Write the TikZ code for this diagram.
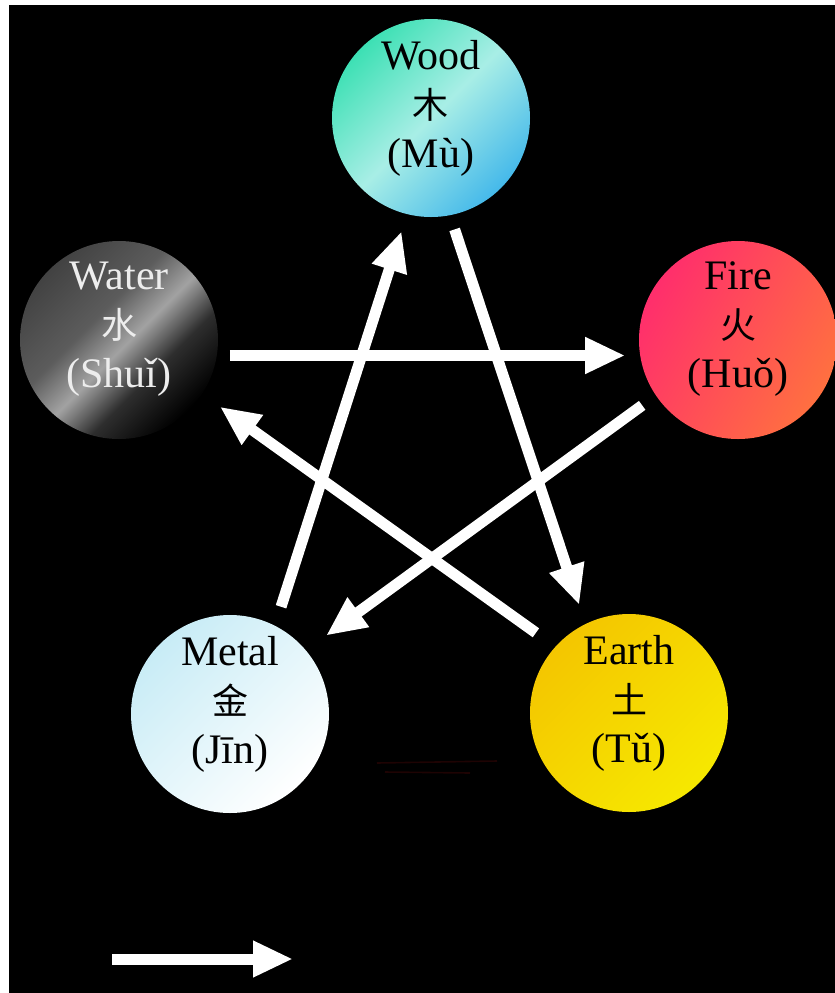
\documentclass[tikz,border=0pt]{standalone}
\usepackage{fontspec}
\setmainfont{Liberation Serif}
\newfontfamily\cjk{Noto Sans CJK SC}
\usetikzlibrary{arrows.meta}

\definecolor{woodA}{HTML}{3DE0B4}
\definecolor{woodM}{HTML}{A8EEE6}
\definecolor{woodB}{HTML}{45B9EA}
\definecolor{fireA}{HTML}{FF2E6C}
\definecolor{fireB}{HTML}{FF7040}
\definecolor{metalA}{HTML}{C8ECF6}
\definecolor{earthA}{HTML}{F4C600}
\definecolor{earthB}{HTML}{F6E800}
\definecolor{waterA}{HTML}{424242}
\definecolor{waterM}{HTML}{5C5C5C}
\definecolor{waterB}{HTML}{A2A2A2}
\definecolor{waterC}{HTML}{2E2E2E}
\definecolor{watertext}{HTML}{EDEDED}
\definecolor{faintred}{HTML}{1E0303}

\pgfdeclarehorizontalshading{watershade}{100bp}{color(0bp)=(waterA); color(25bp)=(waterA); color(42bp)=(waterM); color(52bp)=(waterB); color(62bp)=(waterC); color(75bp)=(black); color(100bp)=(black)}

\begin{document}
\begin{tikzpicture}[x=0.5pt, y=-0.5pt,
    elem/.style={circle, minimum size=99pt, inner sep=0pt, outer sep=0pt},
    lbl/.style={align=center, font=\fontsize{21}{24.5}\selectfont, inner sep=0pt},
    arr/.style={draw=white, line width=5.5pt, -{Triangle[length=20pt,width=17pt]}}]
    \useasboundingbox (0,0) rectangle (835,993);
    \fill[white] (0,0) rectangle (835,993);
    \fill[black] (9,5) rectangle (835,993);

    % the five elements
    \node[elem, left color=woodA, right color=woodB, middle color=woodM, shading angle=45] (wood) at (431,118) {};
    \node[elem, shade, shading=watershade, shading angle=-45] (water) at (119,340) {};
    \node[elem, left color=fireA, right color=fireB, shading angle=60] (fire) at (738,340) {};
    \node[elem, left color=metalA, right color=white, shading angle=45] (metal) at (230,714) {};
    \node[elem, left color=earthA, right color=earthB, shading angle=45] (earth) at (629,713) {};

    \node[lbl] (woodtxt) at ([yshift=5pt]wood.center) {Wood\\{\cjk\fontsize{18}{24.5}\selectfont 木}\\(Mù)};
    \node[lbl, text=watertext] (watertxt) at ([yshift=5.5pt]water.center) {Water\\{\cjk\fontsize{18}{24.5}\selectfont 水}\\(Shuǐ)};
    \node[lbl] (firetxt) at ([yshift=5.5pt]fire.center) {Fire\\{\cjk\fontsize{18}{24.5}\selectfont 火}\\(Huǒ)};
    \node[lbl] (metaltxt) at ([yshift=5pt]metal.center) {Metal\\{\cjk\fontsize{18}{24.5}\selectfont 金}\\(Jīn)};
    \node[lbl] (earthtxt) at ([yshift=5pt]earth.center) {Earth\\{\cjk\fontsize{18}{24.5}\selectfont 土}\\(Tǔ)};

    % the cycle
    \draw[arr, shorten <=6.5pt, shorten >=7.5pt] (water.-9.2) -- (fire.189.2);
    \draw[arr, shorten <=8.5pt, shorten >=12.5pt] (fire.214.1) -- (metal.40.1);
    \draw[arr, shorten <=10pt, shorten >=9pt] (metal.63.7) -- (wood.256.7);
    \draw[arr, shorten <=7.5pt, shorten >=10pt] (wood.281.1) -- (earth.116.3);
    \draw[arr, shorten <=12pt, shorten >=11pt] (earth.138.6) -- (water.327.8);

    % key
    \coordinate (keyfrom) at (112,959);
    \coordinate (keyto) at (293,959);
    \draw[arr] (keyfrom) -- (keyto);

    \draw[faintred, line width=0.8pt] (377,763) -- (497,761);
    \draw[faintred, line width=0.8pt] (385,772) -- (470,773);
\end{tikzpicture}
\end{document}
